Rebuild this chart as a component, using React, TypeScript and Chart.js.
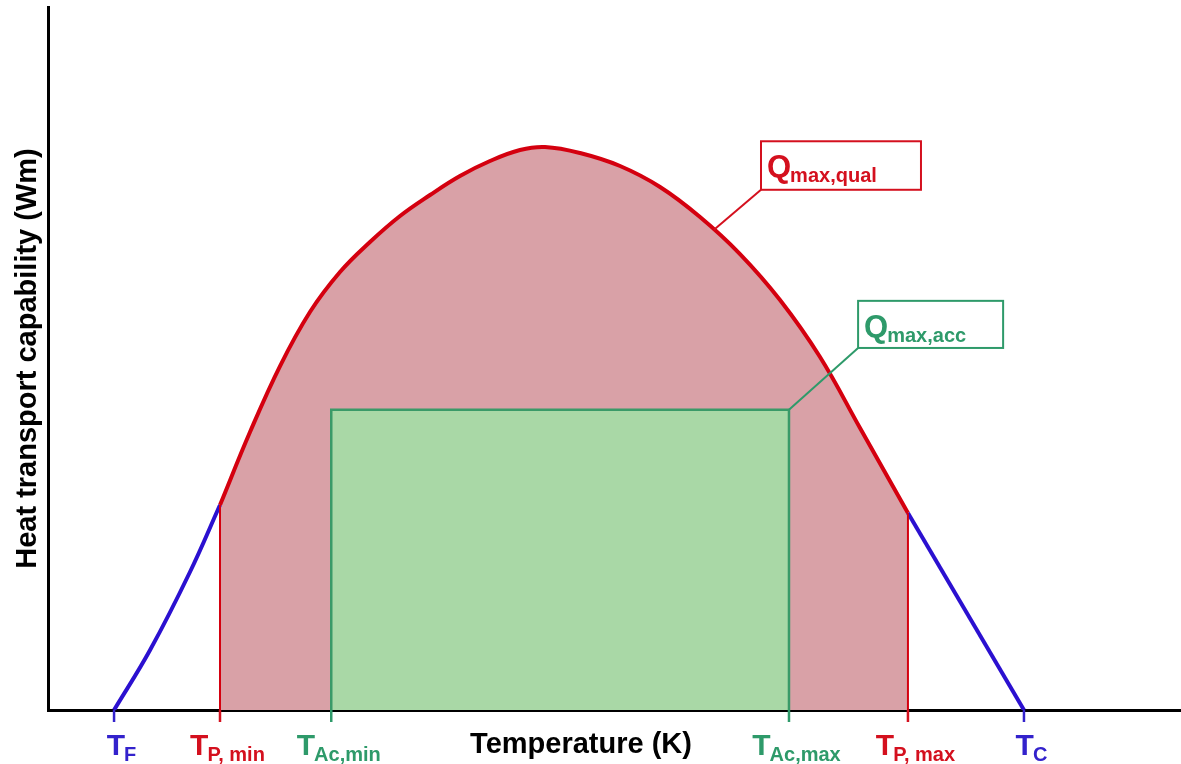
import { useEffect, useRef } from 'react';
import { Chart, registerables } from 'chart.js';

Chart.register(...registerables);

// ---- data (temperature in arbitrary units, capability in % of axis) ----
const leftRiseX = [5.83, 9.01, 12.53, 15.18];
const leftRiseY = [0, 8.53, 19.63, 29.16];

const qualX = [15.18, 17.83, 20.48, 23.12, 25.77, 28.42, 31.07, 33.72, 36.36, 39.01, 41.66, 43.87, 46.96, 50.49, 54.02, 57.55, 61.08, 64.61, 68.14, 71.67, 75.9];
const qualY = [29.16, 39.54, 48.93, 56.61, 62.3, 66.57, 70.27, 73.26, 75.96, 78.09, 79.66, 80.09, 79.23, 77.38, 74.4, 70.13, 64.86, 58.32, 50.21, 40.11, 28.02];

const rightFallX = [75.9, 86.14];
const rightFallY = [28.02, 0];

const accRange = [25.0, 65.4];
const accLevel = 42.7;

const markerTemps = [5.83, 15.18, 25.0, 65.4, 75.9, 86.14];
const markerMain = ['T', 'T', 'T', 'T', 'T', 'T'];
const markerSub = ['F', 'P, min', 'Ac,min', 'Ac,max', 'P, max', 'C'];

const calloutMain = ['Q', 'Q'];
const calloutSub = ['max,qual', 'max,acc'];

const xTitle = 'Temperature (K)';
const yTitle = 'Heat transport capability (Wm)';

// ---- styles ----
const RED = '#d4000f';
const PINK = '#d9a1a7';
const GREEN = '#3a9a68';
const GREEN_FILL = '#a9d8a6';
const BLUE = '#2b10d0';
const LABEL_RED = '#d4101e';
const LABEL_GREEN = '#2e9a6a';
const LABEL_BLUE = '#3322cc';
const markerColors = [LABEL_BLUE, LABEL_RED, LABEL_GREEN, LABEL_GREEN, LABEL_RED, LABEL_BLUE];
const FONT = '"Liberation Sans", Arial, Helvetica, sans-serif';

// callout boxes in data space (box corners) and their leader targets
const callouts = [
  { x0: 62.93, x1: 77.05, y0: 74.0, y1: 80.9, tx: 58.78, ty: 68.3, color: LABEL_RED },
  { x0: 71.5, x1: 84.3, y0: 51.5, y1: 58.2, tx: accRange[1], ty: accLevel, color: LABEL_GREEN },
];

const pts = (xs: number[], ys: number[]) => xs.map((x, i) => ({ x, y: ys[i] }));

const overlay = {
  id: 'overlay',
  afterDraw(chart: any) {
    const { ctx, scales } = chart;
    const xs = scales.x;
    const ys = scales.y;
    ctx.save();

    // callouts
    callouts.forEach((c, i) => {
      const px0 = xs.getPixelForValue(c.x0);
      const px1 = xs.getPixelForValue(c.x1);
      const pyTop = ys.getPixelForValue(c.y1);
      const pyBot = ys.getPixelForValue(c.y0);
      const tx = xs.getPixelForValue(c.tx);
      const ty = ys.getPixelForValue(c.ty);
      ctx.strokeStyle = c.color;
      ctx.lineWidth = 2;
      ctx.beginPath();
      ctx.moveTo(px0, pyBot);
      ctx.lineTo(tx, ty);
      ctx.stroke();
      ctx.fillStyle = '#ffffff';
      ctx.fillRect(px0, pyTop, px1 - px0, pyBot - pyTop);
      ctx.strokeRect(px0, pyTop, px1 - px0, pyBot - pyTop);
      ctx.fillStyle = c.color;
      ctx.textBaseline = 'alphabetic';
      ctx.textAlign = 'left';
      ctx.font = `bold 31px ${FONT}`;
      const qx = px0 + 6;
      const qy = pyTop + 36;
      ctx.fillText(calloutMain[i], qx, qy);
      const qw = ctx.measureText(calloutMain[i]).width;
      ctx.font = `bold 20px ${FONT}`;
      ctx.fillText(calloutSub[i], qx + qw - 1, qy + 5);
    });

    // temperature markers
    const axisY = ys.getPixelForValue(0);
    markerTemps.forEach((t, i) => {
      const px = xs.getPixelForValue(t);
      const col = markerColors[i];
      ctx.strokeStyle = col;
      ctx.lineWidth = 2.5;
      ctx.beginPath();
      ctx.moveTo(px, axisY);
      ctx.lineTo(px, axisY + 12);
      ctx.stroke();
      ctx.fillStyle = col;
      ctx.font = `bold 30px ${FONT}`;
      const w1 = ctx.measureText(markerMain[i]).width;
      ctx.font = `bold 20px ${FONT}`;
      const w2 = ctx.measureText(markerSub[i]).width;
      const start = px + 8 - (w1 + w2) / 2;
      ctx.font = `bold 30px ${FONT}`;
      ctx.fillText(markerMain[i], start, axisY + 45);
      ctx.font = `bold 20px ${FONT}`;
      ctx.fillText(markerSub[i], start + w1 - 1, axisY + 51);
    });

    // axis titles
    ctx.fillStyle = '#000000';
    ctx.font = `bold 29px ${FONT}`;
    ctx.textAlign = 'center';
    ctx.textBaseline = 'middle';
    ctx.fillText(xTitle, 581, axisY + 35);
    ctx.translate(28, (chart.chartArea.top + chart.chartArea.bottom) / 2);
    ctx.rotate(-Math.PI / 2);
    ctx.fillText(yTitle, 0, 0);
    ctx.restore();
  },
};

export default function App() {
  const ref = useRef<HTMLCanvasElement>(null);
  useEffect(() => {
    if (!ref.current) return;
    const chart = new Chart(ref.current, {
      type: 'line',
      data: {
        datasets: [
          {
            data: pts(qualX, qualY),
            borderColor: RED,
            borderWidth: 4,
            backgroundColor: PINK,
            fill: 'origin',
            tension: 0.4,
            pointRadius: 0,
            order: 3,
          },
          {
            data: pts([accRange[0], accRange[0], accRange[1], accRange[1]], [0, accLevel, accLevel, 0]),
            borderColor: GREEN,
            borderWidth: 2.5,
            backgroundColor: GREEN_FILL,
            fill: 'origin',
            tension: 0,
            pointRadius: 0,
            order: 2,
          },
          {
            data: pts([qualX[0], qualX[0]], [0, qualY[0]]),
            borderColor: RED,
            borderWidth: 2,
            fill: false,
            pointRadius: 0,
            order: 1,
          },
          {
            data: pts([qualX[qualX.length - 1], qualX[qualX.length - 1]], [0, qualY[qualY.length - 1]]),
            borderColor: RED,
            borderWidth: 2,
            fill: false,
            pointRadius: 0,
            order: 1,
          },
          {
            data: pts(leftRiseX, leftRiseY),
            borderColor: BLUE,
            borderWidth: 4,
            fill: false,
            tension: 0.4,
            pointRadius: 0,
            order: 1,
          },
          {
            data: pts(rightFallX, rightFallY),
            borderColor: BLUE,
            borderWidth: 4,
            fill: false,
            tension: 0,
            pointRadius: 0,
            order: 1,
          },
        ],
      },
      options: {
        animation: false,
        responsive: false,
        layout: { padding: { left: 48, top: 7, right: 0, bottom: 54 } },
        plugins: { legend: { display: false }, tooltip: { enabled: false } },
        scales: {
          x: {
            type: 'linear',
            min: 0,
            max: 100,
            z: 1,
            grid: { display: false, drawTicks: false },
            ticks: { display: false },
            border: { display: true, color: '#000000', width: 3 },
          },
          y: {
            min: 0,
            max: 100,
            z: 1,
            grid: { display: false, drawTicks: false },
            ticks: { display: false },
            border: { display: true, color: '#000000', width: 3 },
          },
        },
      },
      plugins: [overlay],
    } as any);
    return () => chart.destroy();
  }, []);
  return (
    <div style={{ position: 'absolute', left: 0, top: 0, width: 1181, height: 764, background: '#fff' }}>
      <canvas ref={ref} width={1181} height={764} />
    </div>
  );
}
